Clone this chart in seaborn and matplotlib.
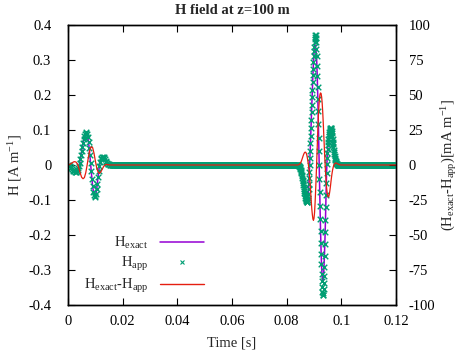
import numpy as np
import matplotlib
matplotlib.use("Agg")
import matplotlib.pyplot as plt
from matplotlib.lines import Line2D
from matplotlib.ticker import FixedLocator, FuncFormatter
import seaborn as sns

# ---- data ----
# first pulse, H_app (green markers), dt = 0.00025 s from t = 0
p1_app_t0, p1_app_dt = 0.0, 0.00025
p1_app = [0.000, -0.001, -0.002, -0.004, -0.006, -0.008, -0.011, -0.013, -0.016, -0.018,
          -0.019, -0.020, -0.019, -0.017, -0.014, -0.009, -0.003, 0.006, 0.016, 0.028,
          0.040, 0.052, 0.064, 0.074, 0.082, 0.088, 0.092, 0.093, 0.089, 0.080,
          0.067, 0.049, 0.028, 0.005, -0.018, -0.040, -0.060, -0.076, -0.087, -0.092,
          -0.090, -0.082, -0.070, -0.053, -0.034, -0.017, -0.003, 0.008, 0.016, 0.021,
          0.024, 0.024, 0.022, 0.019, 0.016, 0.012, 0.009, 0.006, 0.004, 0.002,
          0.0015, 0.001, 0.0005, 0.000, 0.000]

# first pulse, H_exact (purple line) and difference (red, mA/m), dt = 0.0005 s
p1_t0, p1_dt = 0.0, 0.0005
p1_exact = [0.000, -0.002, -0.006, -0.011, -0.016, -0.019, -0.019, -0.014, -0.003, 0.016,
            0.040, 0.064, 0.082, 0.092, 0.089, 0.067, 0.028, -0.018, -0.060, -0.087,
            -0.090, -0.070, -0.034, -0.003, 0.016, 0.024, 0.022, 0.016, 0.009, 0.004,
            0.0015, 0.0005, 0.000]
p1_diff = [0.0, 0.3, 0.8, 1.5, 2.2, 2.4, 2.0, 0.5, -2.5, -6.0,
           -8.8, -9.8, -9.0, -5.5, 0.0, 6.0, 11.0, 13.0, 12.5, 8.5,
           3.0, -2.0, -5.0, -6.0, -5.0, -3.0, -1.2, 0.0, 0.4, 0.3,
           0.1, 0.0, 0.0]

# second pulse, H_app, dt = 0.0001 s from t = 0.084
p2_app_t0, p2_app_dt = 0.0840, 0.0001
p2_app = [0.000, 0.000, -0.001, -0.001, -0.002, -0.003, -0.004, -0.005, -0.007, -0.009,
          -0.011, -0.014, -0.017, -0.020, -0.024, -0.028, -0.032, -0.037, -0.042, -0.047,
          -0.052, -0.058, -0.063, -0.069, -0.074, -0.079, -0.084, -0.089, -0.093, -0.096,
          -0.098, -0.101, -0.104, -0.105, -0.106, -0.106, -0.104, -0.100, -0.093, -0.083,
          -0.070, -0.055, -0.038, -0.020, 0.000, 0.020, 0.041, 0.062, 0.084, 0.106,
          0.128, 0.150, 0.172, 0.194, 0.215, 0.236, 0.256, 0.275, 0.293, 0.310,
          0.325, 0.338, 0.350, 0.360, 0.367, 0.371, 0.370, 0.363, 0.350, 0.332,
          0.310, 0.284, 0.255, 0.223, 0.189, 0.153, 0.116, 0.078, 0.039, 0.000,
          -0.039, -0.078, -0.116, -0.153, -0.189, -0.223, -0.255, -0.284, -0.310, -0.332,
          -0.350, -0.363, -0.370, -0.371, -0.366, -0.355, -0.338, -0.316, -0.290, -0.260,
          -0.227, -0.192, -0.156, -0.120, -0.085, -0.052, -0.022, 0.004, 0.020, 0.033,
          0.045, 0.056, 0.066, 0.075, 0.082, 0.088, 0.093, 0.097, 0.100, 0.103,
          0.105, 0.106, 0.106, 0.104, 0.101, 0.096, 0.090, 0.083, 0.075, 0.067,
          0.059, 0.051, 0.044, 0.037, 0.031, 0.026, 0.021, 0.017, 0.014, 0.011,
          0.009, 0.007, 0.005, 0.004, 0.003, 0.002, 0.001, 0.001, 0.000]

# second pulse, H_exact, dt = 0.0002 s from t = 0.084
p2_ex_t0, p2_ex_dt = 0.0840, 0.0002
p2_exact = [0.000, -0.001, -0.002, -0.004, -0.007, -0.011, -0.017, -0.024, -0.032, -0.042,
            -0.052, -0.063, -0.074, -0.084, -0.093, -0.099, -0.104, -0.106, -0.104, -0.093,
            -0.070, -0.038, 0.000, 0.041, 0.084, 0.128, 0.172, 0.215, 0.256, 0.293,
            0.322, 0.338, 0.343, 0.338, 0.322, 0.295, 0.250, 0.189, 0.116, 0.039,
            -0.039, -0.116, -0.189, -0.250, -0.295, -0.322, -0.333, -0.325, -0.300, -0.262,
            -0.215, -0.156, -0.085, -0.022, 0.020, 0.045, 0.066, 0.082, 0.093, 0.100,
            0.105, 0.106, 0.101, 0.090, 0.075, 0.059, 0.044, 0.031, 0.021, 0.014,
            0.009, 0.005, 0.003, 0.001, 0.000]

# second pulse, difference (mA/m), dt = 0.0002 s from t = 0.084
p2_diff_t0, p2_diff_dt = 0.0840, 0.0002
p2_diff = [0.0, 0.1, 0.2, 0.4, 0.8, 1.3, 2.0, 2.9, 4.0, 5.2,
           6.4, 7.5, 8.4, 9.0, 9.2, 9.0, 8.2, 6.8, 4.8, 2.4,
           -0.5, -4.0, -8.5, -14.0, -20.0, -26.0, -31.5, -35.5, -38.5, -39.5,
           -38.0, -34.0, -27.0, -18.0, -8.0, 3.0, 14.0, 25.0, 34.5, 42.0,
           47.5, 50.5, 51.5, 51.0, 48.5, 44.0, 37.5, 29.5, 20.5, 11.5,
           3.0, -4.5, -11.0, -16.0, -19.5, -21.8, -22.8, -22.6, -21.0, -18.5,
           -15.5, -12.0, -8.8, -6.0, -3.6, -1.8, -0.4, 0.5, 1.0, 1.3,
           1.4, 1.3, 1.1, 0.9, 0.7, 0.5, 0.35, 0.2, 0.1, 0.05,
           0.0]

t_end = 0.12
flat_dt = 0.0001   # sampling of H_app where the field is zero

x_ticks = [0, 0.02, 0.04, 0.06, 0.08, 0.1, 0.12]
y_ticks = [-0.4, -0.3, -0.2, -0.1, 0, 0.1, 0.2, 0.3, 0.4]
y2_ticks = [-100, -75, -50, -25, 0, 25, 50, 75, 100]

C_EXACT = "#9400d3"
C_APP = "#009e73"
C_DIFF = "#e51e10"


def times(t0, dt, vals):
    return t0 + dt * np.arange(len(vals))


# assemble series
t1a = times(p1_app_t0, p1_app_dt, p1_app)
t2a = times(p2_app_t0, p2_app_dt, p2_app)
flat_a = np.arange(t1a[-1] + flat_dt, t2a[0] - flat_dt / 2, flat_dt)
flat_b = np.arange(t2a[-1] + flat_dt, t_end + flat_dt / 2, flat_dt)
t_app = np.concatenate([t1a, flat_a, t2a, flat_b])
h_app = np.concatenate([p1_app, np.zeros(len(flat_a)), p2_app, np.zeros(len(flat_b))])

t_exact = np.concatenate([times(p1_t0, p1_dt, p1_exact), times(p2_ex_t0, p2_ex_dt, p2_exact), [t_end]])
h_exact = np.concatenate([p1_exact, p2_exact, [0.0]])

t_diff = np.concatenate([times(p1_t0, p1_dt, p1_diff), times(p2_diff_t0, p2_diff_dt, p2_diff), [t_end]])
h_diff = np.concatenate([p1_diff, p2_diff, [0.0]])

# ---- style ----
sns.set_theme(style="ticks")
plt.rcParams["font.family"] = ["Liberation Serif", "DejaVu Serif"]
plt.rcParams["mathtext.fontset"] = "custom"
plt.rcParams["mathtext.rm"] = "Liberation Serif"
plt.rcParams["mathtext.it"] = "Liberation Serif"
plt.rcParams["mathtext.default"] = "rm"
plt.rcParams["axes.unicode_minus"] = False
FS = 10.5

fig = plt.figure(figsize=(4.68, 3.51), dpi=100)
ax = fig.add_axes([68 / 468, 1 - 305 / 351, 328 / 468, 280 / 351])
ax2 = ax.twinx()

sns.lineplot(x=t_exact, y=h_exact, ax=ax, color=C_EXACT, linewidth=1.1,
             estimator=None, sort=False, zorder=2)
sns.scatterplot(x=t_app, y=h_app, ax=ax, color=C_APP, marker="x", s=16,
                linewidth=1.0, edgecolor=None, zorder=3)
sns.lineplot(x=t_diff, y=h_diff, ax=ax2, color=C_DIFF, linewidth=0.9,
             estimator=None, sort=False)

ax.set_xlim(0, 0.12)
ax.set_ylim(-0.4, 0.4)
ax2.set_ylim(-100, 100)

fmt = FuncFormatter(lambda v, p: f"{v:g}")
ax.xaxis.set_major_locator(FixedLocator(x_ticks))
ax.yaxis.set_major_locator(FixedLocator(y_ticks))
ax2.yaxis.set_major_locator(FixedLocator(y2_ticks))
ax.xaxis.set_major_formatter(fmt)
ax.yaxis.set_major_formatter(fmt)
ax2.yaxis.set_major_formatter(fmt)

ax.tick_params(axis="x", direction="in", top=True, length=5, width=0.8,
               labelsize=FS, pad=7, colors="black")
ax.tick_params(axis="y", direction="in", right=False, length=5, width=0.8,
               labelsize=FS, pad=12, colors="black")
ax2.tick_params(axis="y", direction="in", length=5, width=0.8,
                labelsize=FS, pad=9, colors="black")
for a in (ax, ax2):
    for s in a.spines.values():
        s.set_visible(True)
        s.set_linewidth(1.0)
        s.set_color("black")

ax.set_xlabel("Time [s]", fontsize=FS, labelpad=6)
ax.set_ylabel("H [A m$^{-1}$]", fontsize=FS, labelpad=3)
ax2.set_ylabel("(H$_{exact}$-H$_{app}$)[mA m$^{-1}$]", fontsize=FS, labelpad=3)
ax.set_title("H field at z=100 m", fontsize=FS, fontweight="bold", pad=8)

handles = [
    Line2D([], [], color=C_EXACT, linewidth=1.1),
    Line2D([], [], color=C_APP, marker="x", linestyle="none", markersize=2.5, markeredgewidth=0.8),
    Line2D([], [], color=C_DIFF, linewidth=1.0),
]
labels = ["H$_{exact}$", "H$_{app}$", "H$_{exact}$-H$_{app}$"]
ax2.legend(handles, labels, loc="lower right", bbox_to_anchor=(0.445, 0.0),
           frameon=False, markerfirst=False, fontsize=FS, handlelength=3.0,
           labelspacing=0.25, handletextpad=0.8, borderpad=0.2)

fig.savefig("out.png", dpi=100)
